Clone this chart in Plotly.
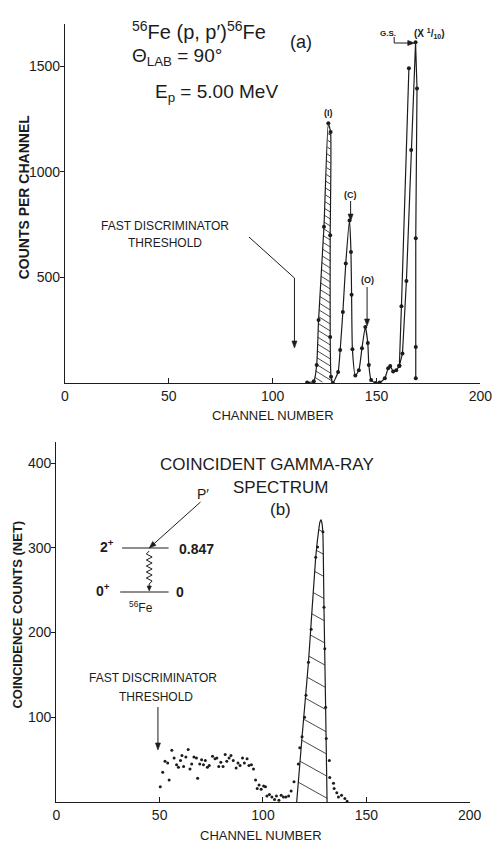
import plotly.graph_objects as go
import numpy as np

W, H = 503, 846
FONT = "Liberation Sans"
INK = "#1c1c1c"

# ---------------- (a) 56Fe(p,p') proton spectrum ----------------
a_chan = [116.6, 119.8, 121.2, 122.1, 124.7, 126.8, 127.9, 127.7, 127.7, 128.1,
          129.0, 131.5, 132.5, 133.8, 135.2, 137.0, 137.7, 138.0, 138.4, 139.8,
          141.5, 143.0, 144.6, 145.8, 146.3, 147.4, 149.6, 151.5, 154.0, 155.6,
          156.6, 158.0, 159.5, 161.0]
a_counts = [2, 8, 85, 298, 740, 1230, 1188, 700, 218, 30,
            0, 52, 156, 336, 566, 770, 620, 418, 160, 35,
            60, 165, 265, 190, 85, 14, 0, 2, 22, 70,
            80, 55, 60, 82]

# ground-state group: full scale rising edge and the x1/10 trace
gs_full_chan = [161.0, 162.0, 165.6]
gs_full_counts = [82, 363, 1490]
gs_tenth_chan = [161.0, 162.5, 164.4, 166.7, 168.8, 169.5, 168.9, 168.9, 168.9]
gs_tenth_counts = [82, 140, 483, 1103, 1613, 1395, 686, 170, 22]

# inelastic group (I) that is hatched: indices into the (a) curve
a_hatch_from, a_hatch_to = 1, 10

# ---------------- (b) coincident gamma-ray spectrum ----------------
b_chan = [50.3, 51.5, 52.6, 53.9, 54.6, 55.9, 57.0, 58.2, 59.1, 60.1,
          60.8, 61.6, 62.7, 63.8, 64.7, 65.5, 66.6, 67.8, 68.4, 69.4,
          70.3, 71.2, 72.1, 73.1, 74.0, 75.6, 76.8, 77.7, 78.6, 79.6,
          80.7, 81.7, 82.5, 83.6, 84.5, 85.6, 87.0, 87.9, 88.9, 90.1,
          91.0, 92.3, 93.2, 94.4, 95.4, 96.4, 97.2, 98.1, 99.1, 100.3,
          101.2, 101.9, 103.1, 104.3, 105.6, 106.5, 107.7, 108.8, 109.9, 111.1,
          112.4, 113.6, 115.0, 117.1, 117.8, 118.9, 120.1, 120.8, 122.0, 123.3,
          125.5, 126.4, 129.0, 129.5, 129.9, 130.3, 130.6, 132.1, 132.3, 134.1,
          134.4, 135.7, 136.5, 138.0, 139.6, 140.7]
b_counts = [18, 35, 48, 46, 26, 61, 52, 44, 41, 49,
            55, 42, 53, 62, 39, 45, 53, 52, 28, 45,
            50, 44, 49, 41, 43, 54, 51, 52, 42, 47,
            42, 56, 48, 52, 55, 49, 40, 46, 43, 52,
            46, 51, 43, 44, 39, 26, 16, 20, 15, 19,
            18, 7, 9, 6, 3, 7, 2, 8, 6, 6,
            7, 13, 24, 45, 64, 77, 100, 126, 165, 204,
            289, 301, 319, 230, 181, 112, 75, 49, 29, 22,
            16, 11, 6, 8, 4, 1]

# envelope drawn through the 0.847 MeV photopeak
b_peak_chan = [116.3, 118.9, 122.0, 125.5, 127.0, 127.6, 128.1, 128.6, 129.0, 129.5, 130.3, 131.0]
b_peak_counts = [0, 77, 165, 289, 322, 331, 333, 328, 315, 230, 112, 0]

# axis geometry in page pixels: left, right, bottom, top
AX_A = dict(l=63, r=492, b=383, t=24, xr=(0, 200), yr=(0, 1700))
AX_B = dict(l=54, r=481, b=802, t=442, xr=(0, 200), yr=(0, 425))


def to_px(ax, x, y):
    sx = (ax["r"] - ax["l"]) / (ax["xr"][1] - ax["xr"][0])
    sy = (ax["b"] - ax["t"]) / (ax["yr"][1] - ax["yr"][0])
    return ax["l"] + (np.asarray(x) - ax["xr"][0]) * sx, ax["b"] - (np.asarray(y) - ax["yr"][0]) * sy


def from_px(ax, X, Y):
    sx = (ax["r"] - ax["l"]) / (ax["xr"][1] - ax["xr"][0])
    sy = (ax["b"] - ax["t"]) / (ax["yr"][1] - ax["yr"][0])
    return ax["xr"][0] + (X - ax["l"]) / sx, ax["yr"][0] + (ax["b"] - Y) / sy


def hatch(ax, px_, py_, spacing, slope):
    """Parallel hatch lines (screen slope, down-right) clipped to a closed polygon."""
    X, Y = to_px(ax, px_, py_)
    X = np.append(X, X[0])
    Y = np.append(Y, Y[0])
    c = Y - slope * X
    xs, ys = [], []
    b = c.min() + spacing * 0.5
    while b < c.max():
        pts = []
        for i in range(len(X) - 1):
            f1 = Y[i] - (b + slope * X[i])
            f2 = Y[i + 1] - (b + slope * X[i + 1])
            if f1 == f2 or f1 * f2 > 0:
                continue
            t = f1 / (f1 - f2)
            pts.append(X[i] + t * (X[i + 1] - X[i]))
        pts.sort()
        for k in range(0, len(pts) - 1, 2):
            for xi in (pts[k], pts[k + 1]):
                dx, dy = from_px(ax, xi, b + slope * xi)
                xs.append(float(dx))
                ys.append(float(dy))
            xs.append(None)
            ys.append(None)
        b += spacing
    return xs, ys


fig = go.Figure()
line_style = dict(color=INK, width=1.2)

# (a) hatched inelastic peak
hp_x = a_chan[a_hatch_from:a_hatch_to + 1]
hp_y = a_counts[a_hatch_from:a_hatch_to + 1]
hx, hy = hatch(AX_A, hp_x, hp_y, 7.0, 0.6)
fig.add_trace(go.Scatter(x=hx, y=hy, mode="lines", line=dict(color=INK, width=0.8),
                         xaxis="x", yaxis="y", hoverinfo="skip"))

fig.add_trace(go.Scatter(x=a_chan, y=a_counts, mode="lines+markers",
                         line=dict(color=INK, width=1.2, shape="spline", smoothing=0.5),
                         marker=dict(size=4, color=INK), xaxis="x", yaxis="y"))
fig.add_trace(go.Scatter(x=gs_full_chan, y=gs_full_counts, mode="lines+markers",
                         line=line_style, marker=dict(size=4, color=INK), xaxis="x", yaxis="y"))
fig.add_trace(go.Scatter(x=gs_tenth_chan, y=gs_tenth_counts, mode="lines+markers",
                         line=line_style, marker=dict(size=4, color=INK), xaxis="x", yaxis="y"))

# (b) hatched photopeak, envelope and data points
bx, by = hatch(AX_B, b_peak_chan, b_peak_counts, 22.0, 0.54)
fig.add_trace(go.Scatter(x=bx, y=by, mode="lines", line=dict(color=INK, width=0.8),
                         xaxis="x2", yaxis="y2", hoverinfo="skip"))
fig.add_trace(go.Scatter(x=b_peak_chan, y=b_peak_counts, mode="lines",
                         line=dict(color=INK, width=1.2, shape="spline", smoothing=0.6),
                         xaxis="x2", yaxis="y2"))
fig.add_trace(go.Scatter(x=b_chan, y=b_counts, mode="markers",
                         marker=dict(size=3, color=INK), xaxis="x2", yaxis="y2"))


def P(px, py):
    return px / W, 1 - py / H


ann = []
shapes = []


def text(px, py, s, size, bold=False, xanchor="center", angle=0):
    x, y = P(px, py)
    if bold:
        s = "<b>" + s + "</b>"
    ann.append(dict(x=x, y=y, xref="paper", yref="paper", text=s, showarrow=False,
                    xanchor=xanchor, yanchor="middle", textangle=angle,
                    font=dict(family=FONT, size=size, color=INK)))


def seg(p0, p1, width=1.1):
    x0, y0 = P(*p0)
    x1, y1 = P(*p1)
    shapes.append(dict(type="line", xref="paper", yref="paper", x0=x0, y0=y0, x1=x1, y1=y1,
                       line=dict(color=INK, width=width)))


def poly_path(pts):
    return "M " + " L ".join(f"{P(*p)[0]:.5f},{P(*p)[1]:.5f}" for p in pts)


def arrow(tip, tail, length=7.0, half=2.6):
    """Straight leader with a filled triangular head at the tip."""
    tip = np.asarray(tip, float)
    tail = np.asarray(tail, float)
    d = tip - tail
    d /= np.hypot(*d)
    n = np.array([-d[1], d[0]])
    base = tip - d * length
    seg(tuple(tail), tuple(base + d * 1.0), width=1.0)
    tri = [tuple(tip), tuple(base + n * half), tuple(base - n * half)]
    shapes.append(dict(type="path", xref="paper", yref="paper", path=poly_path(tri) + " Z",
                       fillcolor=INK, line=dict(color=INK, width=0.6)))


# ---- labels, panel (a)
text(130, 30, "<sup>56</sup>Fe (p, p′)<sup>56</sup>Fe", 20, xanchor="left")
text(307, 42, "(a)", 18)
text(130, 57, "Θ<sub>LAB</sub> = 90°", 19, xanchor="left")
text(154, 93, "E<sub>p</sub> = 5.00 MeV", 19, xanchor="left")
text(335, 113, "(I)", 9, bold=True)
text(358, 195, "(C)", 9, bold=True)
arrow((358, 221), (358, 201))
text(375, 280, "(O)", 9, bold=True)
arrow((375, 326), (375, 287))
text(397, 33, "G.S.", 8, bold=True)
text(421, 33, "(X <sup>1</sup>/<sub>10</sub>)", 10, bold=True, xanchor="left")
seg((403, 37), (403, 43), width=1.0)
arrow((424, 43), (403, 43))
text(166, 226, "FAST DISCRIMINATOR", 12)
text(166, 243, "THRESHOLD", 12)
seg((253, 237), (300, 278), width=1.0)
arrow((300, 348), (300, 278))
text(21, 197, "COUNTS PER CHANNEL", 14, bold=True, angle=-90)
text(278, 415, "CHANNEL NUMBER", 13)

# ---- labels, panel (b)
text(272, 464, "COINCIDENT GAMMA-RAY", 17)
text(286, 487, "SPECTRUM", 17)
text(286, 509, "(b)", 17)
text(206, 494, "P′", 14)
arrow((150, 548), (203, 502))
text(106, 546, "2<sup>+</sup>", 14, bold=True)
seg((122, 548), (170, 548))
text(199, 549, "0.847", 14, bold=True)
text(102, 590, "0<sup>+</sup>", 14, bold=True)
seg((120, 592), (170, 592))
text(182, 592, "0", 14, bold=True)
text(142, 607, "<sup>56</sup>Fe", 12)

# gamma transition drawn as a zigzag between the two levels
zz_y = np.linspace(551, 584, 12)
zz_x = 150 + np.array([0, -3, 3, -3, 3, -3, 3, -3, 3, -3, 3, 0])
shapes.append(dict(type="path", xref="paper", yref="paper",
                   path=poly_path(list(zip(zz_x, zz_y))), line=dict(color=INK, width=1)))
arrow((150, 591), (150, 584), length=5, half=2.2)

text(154, 678, "FAST DISCRIMINATOR", 12)
text(157, 697, "THRESHOLD", 12)
arrow((159, 750), (159, 707))
text(13, 615, "COINCIDENCE COUNTS (NET)", 13, bold=True, angle=-90)
text(265, 835, "CHANNEL NUMBER", 13)


def xdom(ax):
    return [ax["l"] / W, ax["r"] / W]


def ydom(ax):
    return [1 - ax["b"] / H, 1 - ax["t"] / H]


tickfont = dict(family=FONT, size=14, color=INK)
common_x = dict(showgrid=False, zeroline=False, showline=True, linecolor=INK, linewidth=1.2,
                ticks="inside", ticklen=5, tickwidth=1, tickcolor=INK, tickfont=tickfont,
                tickvals=[0, 50, 100, 150, 200], ticktext=["0", "50", "100", "150", "200"])
common_y = dict(showgrid=False, zeroline=False, showline=True, linecolor=INK, linewidth=1.2,
                ticks="outside", ticklen=4, tickwidth=1, tickcolor=INK, tickfont=tickfont,
                ticklabelstandoff=-3)

fig.update_layout(
    width=W, height=H, margin=dict(l=0, r=0, t=0, b=0),
    paper_bgcolor="white", plot_bgcolor="white", showlegend=False,
    xaxis=dict(domain=xdom(AX_A), range=list(AX_A["xr"]), anchor="y", **common_x),
    yaxis=dict(domain=ydom(AX_A), range=list(AX_A["yr"]), anchor="x",
               tickvals=[500, 1000, 1500], **common_y),
    xaxis2=dict(domain=xdom(AX_B), range=list(AX_B["xr"]), anchor="y2", **common_x),
    yaxis2=dict(domain=ydom(AX_B), range=list(AX_B["yr"]), anchor="x2",
                tickvals=[100, 200, 300, 400], **common_y),
    annotations=ann, shapes=shapes,
)

fig.write_html("out.html")
